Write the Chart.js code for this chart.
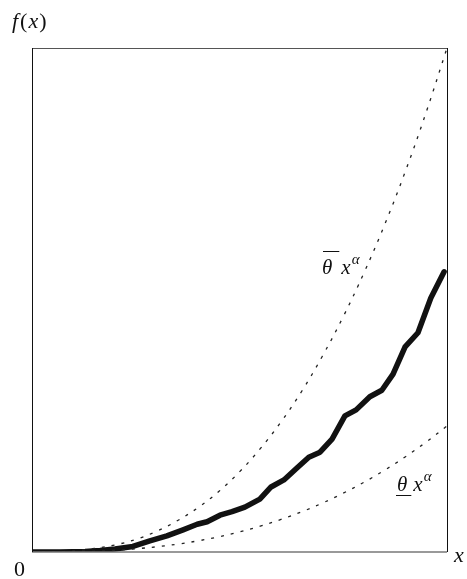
<!DOCTYPE html>
<html>
<head>
<meta charset="utf-8">
<script src="https://cdn.jsdelivr.net/npm/chart.js@4"></script>
<style>
  html, body { margin: 0; padding: 0; background: #fff; }
  #wrap { width: 467px; height: 579px; }
</style>
</head>
<body>
<div id="wrap"><canvas id="chart" width="467" height="579"></canvas></div>
<script>
  // observed path f(x)
  const fX = [0, 0.067, 0.128, 0.164, 0.2, 0.243, 0.284, 0.325, 0.364, 0.398, 0.422, 0.453, 0.482, 0.513, 0.549,
    0.576, 0.607, 0.639, 0.667, 0.694, 0.723, 0.754, 0.781, 0.814, 0.843, 0.870, 0.899, 0.930, 0.961, 0.993]
  const fY = [0, 0, 0.001, 0.003, 0.006, 0.011, 0.022, 0.032, 0.044, 0.055, 0.060, 0.073, 0.080, 0.089, 0.105,
    0.129, 0.143, 0.167, 0.188, 0.198, 0.224, 0.270, 0.282, 0.308, 0.321, 0.353, 0.407, 0.435, 0.504, 0.556]

  // bounds, read at x = 0, 0.05, ... 1
  const boundX = [0, 0.05, 0.1, 0.15, 0.2, 0.25, 0.3, 0.35, 0.4, 0.45, 0.5, 0.55, 0.6, 0.65, 0.7, 0.75, 0.8, 0.85, 0.9, 0.95, 1]
  const upperY = [0, 0.0004, 0.002, 0.007, 0.014, 0.025, 0.041, 0.062, 0.088, 0.120, 0.159, 0.205, 0.258, 0.319,
    0.389, 0.467, 0.554, 0.650, 0.756, 0.873, 1]
  const lowerY = [0, 0.0001, 0.0006, 0.0016, 0.0035, 0.0064, 0.0103, 0.0155, 0.0221, 0.0301, 0.0398, 0.0513,
    0.0646, 0.0798, 0.0972, 0.1167, 0.1384, 0.1625, 0.1891, 0.2182, 0.25]

  const pts = (xs, ys) => xs.map((x, i) => ({ x: x, y: ys[i] }))

  const SERIF = '"Liberation Serif", "DejaVu Serif", serif'

  // draw a run of text pieces: [text, italic, dy, size, gapAfter]
  function drawRun(ctx, x, y, parts) {
    let cx = x
    parts.forEach(p => {
      ctx.font = (p[1] ? 'italic ' : '') + (p[3] || 22) + 'px ' + SERIF
      ctx.fillText(p[0], cx, y + (p[2] || 0))
      cx += ctx.measureText(p[0]).width + (p[4] || 0)
    })
    return cx
  }

  const framePlugin = {
    id: 'frame',
    afterDraw(chart) {
      const { ctx, chartArea: a } = chart
      ctx.save()
      ctx.lineWidth = 1
      ctx.strokeStyle = '#555'
      ctx.beginPath()
      ctx.moveTo(a.left, a.top + 0.5); ctx.lineTo(a.right, a.top + 0.5)
      ctx.stroke()
      ctx.lineWidth = 1.6
      ctx.strokeStyle = '#777'
      ctx.beginPath()
      ctx.moveTo(a.left, a.bottom); ctx.lineTo(a.right, a.bottom)
      ctx.stroke()
      ctx.lineWidth = 1
      ctx.strokeStyle = '#111'
      ctx.beginPath()
      ctx.moveTo(a.left + 0.5, a.top); ctx.lineTo(a.left + 0.5, a.bottom)
      ctx.moveTo(a.right + 0.5, a.top); ctx.lineTo(a.right + 0.5, a.bottom)
      ctx.stroke()

      ctx.fillStyle = '#111'
      ctx.textBaseline = 'alphabetic'
      drawRun(ctx, 12, 28, [['f', true, 0, 22, 2], ['(', false, 0, 22, 1], ['x', true, 0, 22, 1], [')', false, 0, 22]])
      drawRun(ctx, 14, 576, [['0', false, 0, 22]])
      drawRun(ctx, 454, 562, [['x', true, 0, 22]])

      // upper label with overline
      let x0 = 322, y0 = 274
      ctx.font = 'italic 21px ' + SERIF
      let w = ctx.measureText('\u03b8').width
      drawRun(ctx, x0, y0, [['\u03b8', true, 0, 21, 9], ['x', true, 0, 21, 1], ['\u03b1', true, -10, 15]])
      ctx.lineWidth = 1
      ctx.strokeStyle = '#111'
      ctx.beginPath()
      ctx.moveTo(x0 + 1, y0 - 22.5); ctx.lineTo(x0 + w + 7, y0 - 22.5)
      ctx.stroke()

      // lower label with underline
      x0 = 397; y0 = 491
      drawRun(ctx, x0, y0, [['\u03b8', true, 0, 21, 6], ['x', true, 0, 21, 1], ['\u03b1', true, -10, 15]])
      ctx.beginPath()
      ctx.moveTo(x0 - 1, y0 + 4.5); ctx.lineTo(x0 + w + 4, y0 + 4.5)
      ctx.stroke()
      ctx.restore()
    }
  }

  new Chart(document.getElementById('chart'), {
    type: 'line',
    data: {
      datasets: [{
        label: 'upper',
        data: pts(boundX, upperY),
        borderColor: '#222',
        borderWidth: 1.3,
        borderDash: [3, 7],
        pointRadius: 0,
        tension: 0.4
      }, {
        label: 'lower',
        data: pts(boundX, lowerY),
        borderColor: '#222',
        borderWidth: 1.3,
        borderDash: [3, 7],
        pointRadius: 0,
        tension: 0.4
      }, {
        label: 'f',
        data: pts(fX, fY),
        borderColor: '#111',
        borderWidth: 5.5,
        pointRadius: 0,
        tension: 0,
        borderJoinStyle: 'round',
        borderCapStyle: 'round'
      }]
    },
    options: {
      responsive: false,
      animation: false,
      layout: { padding: { left: 32, right: 20, top: 48, bottom: 27 } },
      plugins: { legend: { display: false }, tooltip: { enabled: false } },
      scales: {
        x: { type: 'linear', min: 0, max: 1, display: false },
        y: { min: 0, max: 1, display: false }
      }
    },
    plugins: [framePlugin]
  })
</script>
</body>
</html>
